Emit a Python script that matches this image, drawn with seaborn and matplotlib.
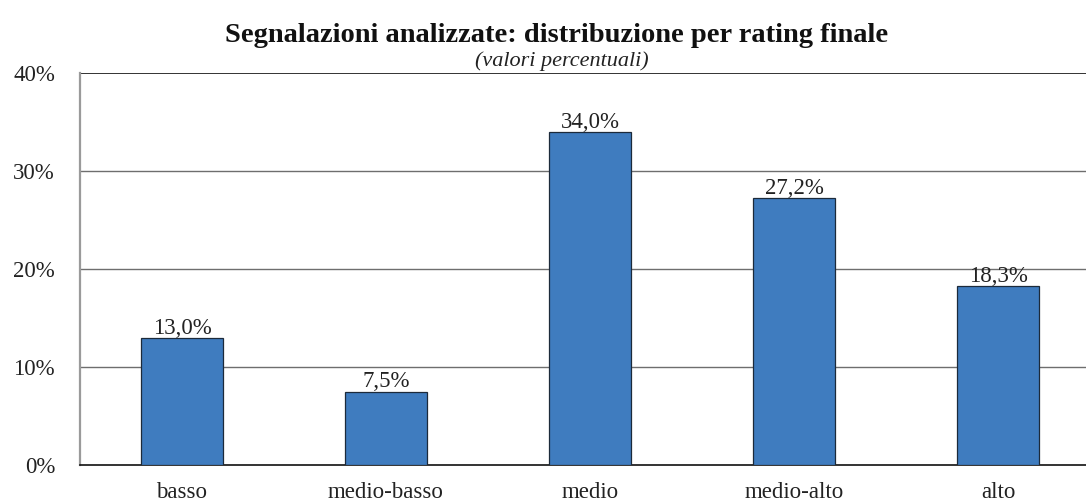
import matplotlib.pyplot as plt
import pandas as pd
import seaborn as sns

# Data
categories = ["basso", "medio-basso", "medio", "medio-alto", "alto"]
values = [13.0, 7.5, 34.0, 27.2, 18.3]
y_ticks = [0, 10, 20, 30, 40]

df = pd.DataFrame({"rating": categories, "pct": values})

sns.set_style("white")
plt.rcParams["font.family"] = ["Liberation Serif", "DejaVu Serif"]

fig = plt.figure(figsize=(10.86, 5.04), dpi=100)
# axes extends slightly past the right edge, as in the reference
ax = fig.add_axes([80 / 1086, 39 / 504, 1020 / 1086, 392 / 504])

sns.barplot(
    data=df, x="rating", y="pct", color="#3F7CBF", saturation=1,
    width=0.4, edgecolor="#1c2a3a", linewidth=0.9, ax=ax, zorder=3,
)

ax.set_ylim(0, 40)
ax.set_xlim(-0.5, len(categories) - 0.5)
ax.set_yticks(y_ticks)
ax.set_yticklabels([f"{t}%" for t in y_ticks], fontsize=16.5, color="#222222")
ax.tick_params(axis="x", labelsize=16.5, pad=12, length=0, labelcolor="#222222")
ax.tick_params(axis="y", length=0, pad=18)
ax.set_xlabel("")
ax.set_ylabel("")

for t in y_ticks[1:-1]:
    ax.axhline(t, color="#6e6e6e", linewidth=1.0, zorder=1)
ax.axhline(40, color="#111111", linewidth=1.2, zorder=1)

for s in ["top", "right"]:
    ax.spines[s].set_visible(False)
ax.spines["left"].set_color("#9a9a9a")
ax.spines["left"].set_linewidth(1.6)
ax.spines["bottom"].set_color("#111111")
ax.spines["bottom"].set_linewidth(1.2)

for i, v in enumerate(values):
    ax.text(i, v - 0.1, f"{v:.1f}%".replace(".", ","), ha="center", va="bottom",
            fontsize=16.5, color="#222222", zorder=4)

fig.text(557 / 1086, 1 - 35 / 504, "Segnalazioni analizzate: distribuzione per rating finale",
         ha="center", va="center", fontsize=20.5, fontweight="bold", color="#111111")
fig.text(562 / 1086, 1 - 61 / 504, "(valori percentuali)",
         ha="center", va="center", fontsize=16, fontstyle="italic", color="#222222")

fig.savefig("out.png", dpi=100)
